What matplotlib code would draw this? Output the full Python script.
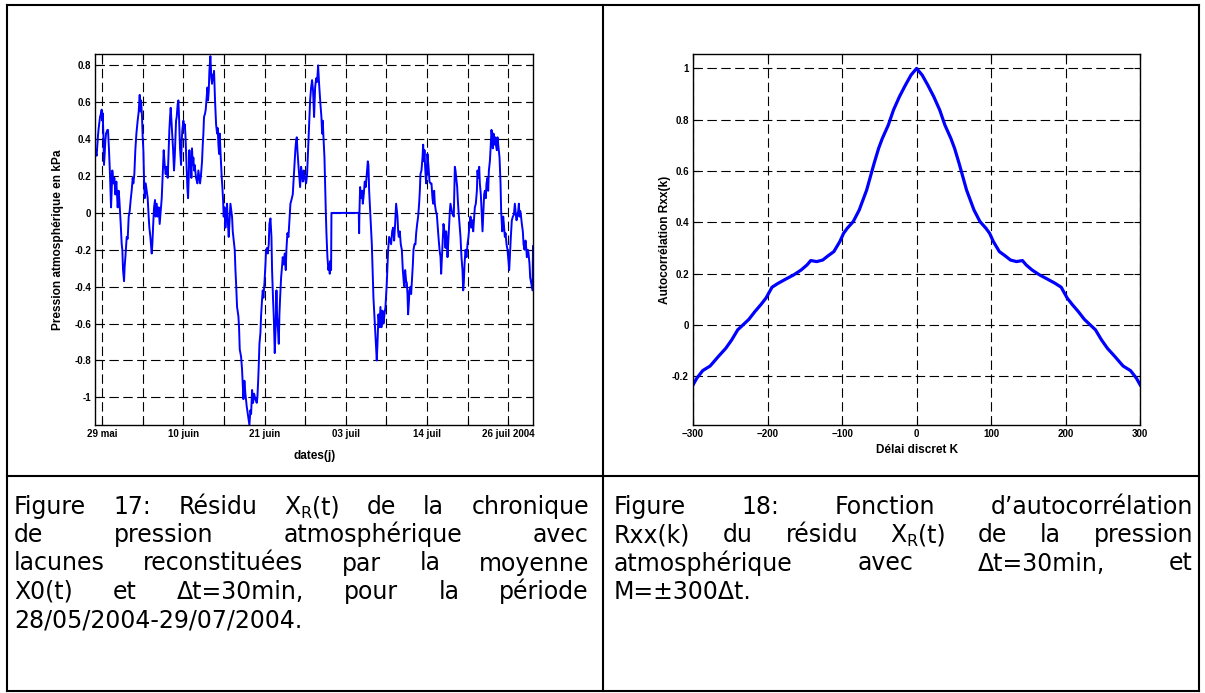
import numpy as np
import matplotlib
matplotlib.use("Agg")
import matplotlib.pyplot as plt
from matplotlib.lines import Line2D
from matplotlib.transforms import IdentityTransform

plt.rcParams['font.family'] = ['Liberation Sans', 'DejaVu Sans']

W, H = 1205, 693

# Figure 17 : residu X_R(t), (jours depuis le 28/05/2004, kPa)
residu_points = [
    (0.75, 0.34), (0.94, 0.31), (1.13, 0.42), (1.23, 0.46), (1.42, 0.52), (1.56, 0.54), (1.65, 0.56),
    (1.75, 0.50), (1.80, 0.54), (1.89, 0.43), (1.98, 0.26), (2.08, 0.32), (2.17, 0.39), (2.27, 0.43),
    (2.46, 0.45), (2.55, 0.45), (2.69, 0.34), (2.83, 0.21), (2.98, 0.03), (3.07, 0.12), (3.16, 0.23),
    (3.31, 0.16), (3.45, 0.19), (3.59, 0.10), (3.73, 0.17), (3.92, 0.03), (4.06, 0.12), (4.16, 0.07),
    (4.35, -0.06), (4.49, -0.17), (4.58, -0.20), (4.68, -0.31), (4.82, -0.37), (4.91, -0.29), (5.01, -0.24),
    (5.20, -0.13), (5.34, -0.14), (5.48, -0.02), (5.62, 0.01), (5.76, 0.07), (5.90, 0.12), (6.05, 0.19),
    (6.14, 0.16), (6.28, 0.21), (6.42, 0.34), (6.57, 0.43), (6.75, 0.50), (6.90, 0.55), (7.04, 0.64),
    (7.13, 0.55), (7.23, 0.61), (7.37, 0.52), (7.46, 0.41), (7.56, 0.34), (7.65, 0.19), (7.75, 0.08),
    (7.89, 0.16), (8.03, 0.12), (8.17, 0.08), (8.31, -0.02), (8.41, -0.08), (8.55, -0.13), (8.74, -0.22),
    (8.83, -0.17), (8.93, -0.08), (9.07, 0.03), (9.21, 0.07), (9.31, -0.02), (9.45, 0.05), (9.59, -0.02),
    (9.73, 0.03), (9.87, -0.06), (10.01, 0.01), (10.16, 0.08), (10.25, 0.16), (10.34, 0.23), (10.44, 0.34),
    (10.58, 0.26), (10.72, 0.21), (10.86, 0.25), (11.01, 0.19), (11.15, 0.34), (11.24, 0.45), (11.34, 0.52),
    (11.43, 0.57), (11.57, 0.48), (11.67, 0.41), (11.76, 0.35), (11.90, 0.23), (12.00, 0.30), (12.09, 0.39),
    (12.19, 0.50), (12.28, 0.52), (12.42, 0.59), (12.52, 0.61), (12.61, 0.52), (12.75, 0.35), (12.90, 0.26),
    (12.99, 0.39), (13.08, 0.45), (13.23, 0.50), (13.32, 0.46), (13.42, 0.48), (13.51, 0.43), (13.65, 0.28),
    (13.79, 0.14), (13.89, 0.08), (13.98, 0.19), (14.08, 0.34), (14.17, 0.25), (14.27, 0.28), (14.36, 0.19),
    (14.45, 0.35), (14.55, 0.26), (14.64, 0.30), (14.74, 0.23), (14.83, 0.26), (15.02, 0.19), (15.21, 0.16),
    (15.35, 0.23), (15.49, 0.19), (15.59, 0.16), (15.73, 0.21), (15.87, 0.28), (15.97, 0.37), (16.06, 0.43),
    (16.15, 0.52), (16.30, 0.54), (16.39, 0.56), (16.53, 0.63), (16.63, 0.68), (16.72, 0.61), (16.82, 0.66),
    (16.91, 0.77), (17.05, 0.85), (17.19, 0.73), (17.29, 0.70), (17.38, 0.75), (17.48, 0.72), (17.57, 0.77),
    (17.71, 0.61), (17.86, 0.48), (18.00, 0.43), (18.09, 0.46), (18.19, 0.37), (18.28, 0.32), (18.38, 0.43),
    (18.47, 0.34), (18.66, 0.19), (18.75, 0.14), (18.85, 0.07), (18.94, -0.02), (19.04, 0.03), (19.18, -0.08),
    (19.27, -0.02), (19.41, 0.05), (19.51, -0.04), (19.65, -0.13), (19.74, -0.06), (19.89, 0.05), (20.03, 0.01),
    (20.12, -0.02), (20.22, -0.10), (20.36, -0.15), (20.50, -0.20), (20.60, -0.31), (20.69, -0.38), (20.83, -0.51),
    (21.02, -0.56), (21.11, -0.62), (21.21, -0.74), (21.40, -0.78), (21.54, -0.85), (21.63, -0.92), (21.73, -1.01),
    (21.87, -0.91), (22.01, -0.98), (22.20, -1.05), (22.39, -1.10), (22.58, -1.15), (22.72, -1.07), (22.82, -1.09),
    (22.96, -0.96), (23.10, -1.03), (23.24, -0.98), (23.43, -1.01), (23.62, -1.03), (23.71, -1.00), (23.81, -0.92),
    (23.90, -0.83), (24.00, -0.71), (24.14, -0.65), (24.23, -0.56), (24.37, -0.47), (24.47, -0.42), (24.56, -0.46),
    (24.71, -0.38), (24.85, -0.28), (24.94, -0.20), (25.08, -0.19), (25.18, -0.22), (25.32, -0.17), (25.41, -0.06),
    (25.56, -0.03), (25.70, -0.13), (25.79, -0.31), (25.93, -0.47), (26.03, -0.56), (26.17, -0.76), (26.31, -0.60),
    (26.41, -0.42), (26.50, -0.56), (26.64, -0.64), (26.74, -0.71), (26.83, -0.55), (26.93, -0.46), (27.07, -0.35),
    (27.16, -0.31), (27.30, -0.24), (27.45, -0.28), (27.59, -0.22), (27.73, -0.31), (27.82, -0.20), (27.96, -0.11),
    (28.11, -0.13), (28.25, -0.04), (28.39, 0.05), (28.53, 0.07), (28.72, 0.10), (28.81, 0.16), (28.96, 0.25),
    (29.10, 0.35), (29.19, 0.39), (29.29, 0.41), (29.38, 0.34), (29.52, 0.26), (29.66, 0.19), (29.76, 0.14),
    (29.90, 0.25), (30.04, 0.21), (30.14, 0.17), (30.28, 0.23), (30.42, 0.19), (30.61, 0.16), (30.75, 0.21),
    (30.89, 0.34), (30.99, 0.43), (31.08, 0.52), (31.18, 0.61), (31.32, 0.68), (31.46, 0.72), (31.60, 0.66),
    (31.74, 0.52), (31.89, 0.68), (32.03, 0.73), (32.17, 0.71), (32.31, 0.80), (32.45, 0.70), (32.64, 0.59),
    (32.78, 0.52), (32.88, 0.43), (32.97, 0.50), (33.07, 0.41), (33.21, 0.30), (33.30, 0.16), (33.40, 0.01),
    (33.49, -0.11), (33.63, -0.24), (33.77, -0.31), (33.87, -0.28), (33.96, -0.33), (34.06, -0.26), (34.15, -0.31),
    (34.20, 0.00), (38.07, 0.00), (38.12, -0.11), (38.17, 0.01), (38.26, 0.14), (38.40, 0.08), (38.55, 0.12),
    (38.64, 0.05), (38.78, 0.10), (38.92, 0.17), (39.06, 0.14), (39.21, 0.21), (39.35, 0.28), (39.44, 0.26),
    (39.54, 0.12), (39.68, 0.01), (39.82, -0.10), (39.92, -0.17), (40.01, -0.28), (40.15, -0.46), (40.29, -0.56),
    (40.44, -0.67), (40.62, -0.80), (40.72, -0.71), (40.86, -0.55), (41.00, -0.62), (41.14, -0.51), (41.28, -0.62),
    (41.43, -0.53), (41.57, -0.60), (41.71, -0.55), (41.85, -0.51), (42.04, -0.38), (42.14, -0.29), (42.23, -0.20),
    (42.37, -0.13), (42.51, -0.15), (42.65, -0.17), (42.80, -0.10), (42.94, -0.08), (43.08, -0.15), (43.22, -0.06),
    (43.36, 0.05), (43.46, 0.01), (43.55, -0.02), (43.65, -0.10), (43.74, -0.13), (43.88, -0.10), (44.02, -0.17),
    (44.17, -0.20), (44.31, -0.31), (44.45, -0.38), (44.55, -0.40), (44.64, -0.31), (44.78, -0.37), (44.88, -0.38),
    (44.97, -0.44), (45.06, -0.55), (45.16, -0.49), (45.25, -0.42), (45.40, -0.40), (45.49, -0.44), (45.58, -0.38),
    (45.73, -0.28), (45.82, -0.20), (45.96, -0.17), (46.10, -0.17), (46.20, -0.11), (46.34, -0.06), (46.48, -0.02),
    (46.62, 0.05), (46.72, 0.12), (46.81, 0.21), (46.95, 0.23), (47.10, 0.30), (47.19, 0.37), (47.28, 0.28),
    (47.38, 0.34), (47.47, 0.25), (47.61, 0.16), (47.71, 0.23), (47.80, 0.32), (47.95, 0.25), (48.09, 0.17),
    (48.23, 0.16), (48.37, 0.16), (48.51, 0.08), (48.61, 0.05), (48.75, 0.12), (48.84, 0.05), (48.99, 0.01),
    (49.13, -0.01), (49.22, -0.06), (49.36, -0.13), (49.51, -0.20), (49.65, -0.24), (49.74, -0.33), (49.88, -0.22),
    (49.98, -0.13), (50.07, -0.06), (50.21, -0.10), (50.36, -0.19), (50.45, -0.10), (50.55, -0.15), (50.64, -0.24),
    (50.73, -0.17), (50.88, -0.06), (50.97, 0.01), (51.06, 0.05), (51.16, 0.03), (51.25, 0.01), (51.39, -0.01),
    (51.53, -0.02), (51.68, 0.25), (51.77, 0.23), (51.87, 0.19), (52.01, 0.14), (52.10, 0.07), (52.20, 0.01),
    (52.34, -0.06), (52.48, -0.13), (52.62, -0.24), (52.76, -0.31), (52.86, -0.42), (52.95, -0.38), (53.05, -0.28),
    (53.19, -0.20), (53.33, -0.24), (53.47, -0.17), (53.61, -0.13), (53.76, -0.06), (53.90, -0.02), (54.04, -0.08),
    (54.18, -0.04), (54.28, -0.10), (54.42, -0.02), (54.51, 0.03), (54.65, 0.05), (54.80, 0.12), (54.89, 0.23),
    (54.99, 0.19), (55.13, 0.25), (55.22, 0.16), (55.36, 0.10), (55.50, -0.02), (55.60, -0.10), (55.69, -0.02),
    (55.83, 0.10), (55.93, 0.12), (56.07, 0.08), (56.16, 0.16), (56.31, 0.19), (56.40, 0.12), (56.50, 0.23),
    (56.64, 0.28), (56.73, 0.34), (56.87, 0.45), (56.97, 0.41), (57.06, 0.35), (57.16, 0.43), (57.25, 0.37),
    (57.39, 0.41), (57.49, 0.37), (57.63, 0.34), (57.72, 0.41), (57.87, 0.35), (58.01, 0.30), (58.15, 0.16),
    (58.24, 0.01), (58.39, -0.10), (58.53, -0.02), (58.62, -0.06), (58.76, -0.13), (58.86, -0.11), (59.00, -0.17),
    (59.14, -0.20), (59.23, -0.24), (59.38, -0.31), (59.47, -0.24), (59.61, -0.13), (59.75, -0.04), (59.90, -0.02),
    (60.04, -0.01), (60.18, 0.05), (60.32, -0.01), (60.42, -0.04), (60.56, -0.01), (60.65, 0.01), (60.75, 0.05),
    (60.84, -0.02), (60.94, 0.01), (61.03, -0.01), (61.17, -0.06), (61.31, -0.10), (61.41, -0.17), (61.55, -0.20),
    (61.69, -0.15), (61.79, -0.19), (61.88, -0.24), (62.02, -0.20), (62.12, -0.22), (62.26, -0.28), (62.35, -0.35),
    (62.49, -0.38), (62.59, -0.40), (62.68, -0.42), (62.75, -0.18),
]
residu_days = [p[0] for p in residu_points]
residu_kpa = [p[1] for p in residu_points]

date_ticks = [1.74, 7.49, 13.24, 18.99, 24.74, 30.49, 36.24, 41.99, 47.74, 53.49, 59.24]
date_labels = ['29 mai', '', '10 juin', '', '21 juin', '', '03 juil', '', '14 juil', '', '26 juil 2004']
kpa_ticks = [-1, -0.8, -0.6, -0.4, -0.2, 0, 0.2, 0.4, 0.6, 0.8]
kpa_labels = ['-1', '-0.8', '-0.6', '-0.4', '-0.2', '0', '0.2', '0.4', '0.6', '0.8']

# Figure 18 : autocorrelation Rxx(k)
lags = [-300, -295, -287, -277, -266, -256, -248, -240, -233, -225, -217, -209, -202, -194, -186,
        -176, -165, -155, -147, -142, -134, -126, -119, -111, -103, -98, -93, -85, -77, -72,
        -67, -62, -57, -51, -46, -38, -31, -23, -15, -7.5, 0,
        7.5, 15, 23, 31, 38, 46, 51, 57, 62, 67, 72, 77, 85, 93, 98, 103, 111, 119, 126,
        134, 142, 147, 155, 165, 176, 186, 194, 202, 209, 217, 225, 233, 240, 248, 256,
        266, 277, 287, 295, 300]
rxx = [-0.234, -0.208, -0.178, -0.160, -0.123, -0.091, -0.058, -0.019, 0.0, 0.022, 0.052, 0.079, 0.105, 0.147, 0.162,
       0.178, 0.195, 0.214, 0.234, 0.251, 0.247, 0.253, 0.269, 0.286, 0.325, 0.357, 0.377, 0.403, 0.448, 0.487,
       0.526, 0.578, 0.630, 0.688, 0.727, 0.779, 0.838, 0.890, 0.935, 0.974, 1.0,
       0.974, 0.935, 0.890, 0.838, 0.779, 0.727, 0.688, 0.630, 0.578, 0.526, 0.487, 0.448, 0.403, 0.377, 0.357, 0.325,
       0.286, 0.269, 0.253, 0.247, 0.251, 0.234, 0.214, 0.195, 0.178, 0.162, 0.147, 0.105, 0.079, 0.052, 0.022, 0.0,
       -0.019, -0.058, -0.091, -0.123, -0.160, -0.178, -0.208, -0.234]
lag_ticks = [-300, -200, -100, 0, 100, 200, 300]
rxx_ticks = [-0.2, 0, 0.2, 0.4, 0.6, 0.8, 1]
rxx_labels = ['-0.2', '0', '0.2', '0.4', '0.6', '0.8', '1']

# captions; a tuple word is (text, subscript, text)
caption_left = [
    ['Figure', '17:', 'Résidu', ('X', 'R', '(t)'), 'de', 'la', 'chronique'],
    ['de', 'pression', 'atmosphérique', 'avec'],
    ['lacunes', 'reconstituées', 'par', 'la', 'moyenne'],
    ['X0(t)', 'et', 'Δt=30min,', 'pour', 'la', 'période'],
    ['28/05/2004-29/07/2004.'],
]
caption_right = [
    ['Figure', '18:', 'Fonction', 'd’autocorrélation'],
    ['Rxx(k)', 'du', 'résidu', ('X', 'R', '(t)'), 'de', 'la', 'pression'],
    ['atmosphérique', 'avec', 'Δt=30min,', 'et'],
    ['M=±300Δt.'],
]

fig = plt.figure(figsize=(W / 100, H / 100), dpi=100)
fig.patch.set_facecolor('white')

grid_style = dict(color='black', linestyle=(0, (8.5, 4)), linewidth=0.8)


def style_axes(ax):
    ax.grid(True, **grid_style)
    ax.tick_params(direction='in', length=4, width=0.8, top=True, right=True,
                   labelsize=7, pad=3)
    for s in ax.spines.values():
        s.set_linewidth(1.0)
        s.set_color('black')
    for lab in ax.get_xticklabels() + ax.get_yticklabels():
        lab.set_fontweight('bold')


ax1 = fig.add_axes([95.3 / W, 1 - 425 / H, (533 - 95.3) / W, (425 - 54.3) / H])
ax1.plot(residu_days, residu_kpa, color='#0000ff', linewidth=1.4)
ax1.set_xlim(0.75, 62.75)
ax1.set_ylim(-1.15, 0.86)
ax1.set_xticks(date_ticks)
ax1.set_xticklabels(date_labels)
ax1.set_yticks(kpa_ticks)
ax1.set_yticklabels(kpa_labels)
style_axes(ax1)
ax1.set_ylabel('Pression atmosphérique en kPa', fontsize=8.6, fontweight='bold')
ax1.yaxis.set_label_coords(-0.071, 0.5)
ax1.set_xlabel('dates(j)', fontsize=8.5, fontweight='bold')
ax1.xaxis.set_label_coords(0.5, -0.068)

ax2 = fig.add_axes([693 / W, 1 - 425 / H, (1140.2 - 693) / W, (425 - 54.3) / H])
ax2.plot(lags, rxx, color='#0000ff', linewidth=2.3)
ax2.set_xlim(-300, 300)
ax2.set_ylim(-0.39, 1.055)
ax2.set_xticks(lag_ticks)
ax2.set_yticks(rxx_ticks)
ax2.set_yticklabels(rxx_labels)
style_axes(ax2)
ax2.set_ylabel('Autocorrélation Rxx(k)', fontsize=8.6, fontweight='bold')
ax2.yaxis.set_label_coords(-0.049, 0.5)
ax2.set_xlabel('Délai discret K', fontsize=8.5, fontweight='bold')
ax2.xaxis.set_label_coords(0.5, -0.05)

# table borders
for x in [7, 603, 1199]:
    fig.add_artist(Line2D([x / W, x / W], [1 - 5 / H, 1 - 691 / H], color='black', linewidth=1.5))
for y in [5, 476, 691]:
    fig.add_artist(Line2D([7 / W, 1199 / W], [1 - y / H, 1 - y / H], color='black', linewidth=1.5))

# justified captions
renderer = fig.canvas.get_renderer()
cap_size = 17
baselines = [514, 542, 570.5, 599, 627]


def make_word(word, y):
    # returns list of (text artist, dy) pieces
    kw = dict(family='DejaVu Sans', ha='left', va='baseline', transform=IdentityTransform())
    if isinstance(word, tuple):
        a = fig.text(0, y, word[0], fontsize=cap_size, **kw)
        b = fig.text(0, y - 4, word[1], fontsize=cap_size * 0.68, **kw)
        c = fig.text(0, y, word[2], fontsize=cap_size, **kw)
        return [a, b, c]
    return [fig.text(0, y, word, fontsize=cap_size, **kw)]


def write_caption(lines, x0, x1):
    for i, words in enumerate(lines):
        y = H - baselines[i]
        if i == len(lines) - 1:
            fig.text(x0, y, ' '.join(words), fontsize=cap_size, family='DejaVu Sans',
                     ha='left', va='baseline', transform=IdentityTransform())
            continue
        pieces = [make_word(w, y) for w in words]
        widths = [[p.get_window_extent(renderer).width for p in ps] for ps in pieces]
        total = sum(sum(ws) for ws in widths)
        gap = (x1 - x0 - total) / (len(words) - 1)
        x = x0
        for ps, ws in zip(pieces, widths):
            for p, w in zip(ps, ws):
                p.set_x(x)
                x += w
            x += gap


write_caption(caption_left, 14, 589)
write_caption(caption_right, 614, 1193)

fig.savefig('out.png', dpi=100, facecolor='white')
